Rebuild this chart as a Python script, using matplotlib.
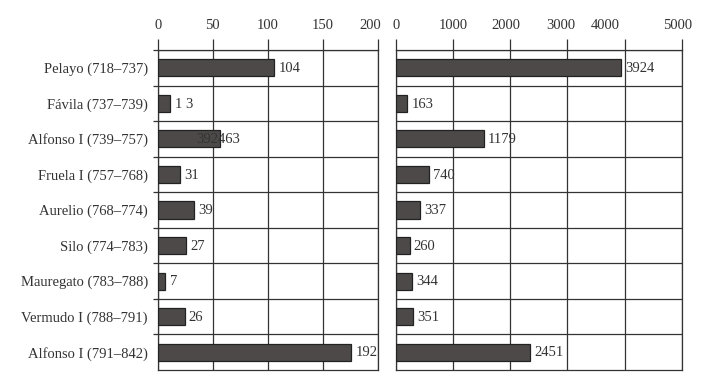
import matplotlib
matplotlib.use('Agg')
import matplotlib.pyplot as plt
import matplotlib.transforms as mtransforms
import numpy as np

plt.rcParams['font.family'] = ['Liberation Serif', 'DejaVu Serif']

# kings of Asturias and their reigns
kings = ['Pelayo (718–737)', 'Fávila (737–739)', 'Alfonso I (739–757)',
         'Fruela I (757–768)', 'Aurelio (768–774)', 'Silo (774–783)',
         'Mauregato (783–788)', 'Vermudo I (788–791)', 'Alfonso I (791–842)']

# bar lengths as drawn, and the labels as printed next to them
left_values = [106, 11.5, 57, 20, 33, 26, 7, 24.5, 176]
left_labels = ['104', '1 3', '392463', '31', '39', '27', '7', '26', '192']
right_values = [3932, 198, 1535, 583, 415, 240, 275, 292, 2340]
right_labels = ['3924', '163', '1179', '740', '337', '260', '344', '351', '2451']

left_ticks = [0, 50, 100, 150, 200]
right_ticks = [0, 1000, 2000, 3000, 4000, 5000]

ink = '#333333'
bar_fill = '#4d4949'

fig = plt.figure(figsize=(7.23, 3.86), dpi=100)
ax1 = fig.add_axes([0.2181, 0.0415, 0.3043, 0.829])
ax2 = fig.add_axes([0.5477, 0.0415, 0.3952, 0.829])

y = np.arange(len(kings))

# tick label nudges (px), the original places some labels off their gridline
nudges = {ax1: {200: -7.5}, ax2: {2000: -4, 3000: -7, 4000: -19, 5000: -4}}
# label shift (px) relative to bar end
label_shift = {'392463': -28}

for ax, vals, labs, ticks in [(ax1, left_values, left_labels, left_ticks),
                              (ax2, right_values, right_labels, right_ticks)]:
    ax.barh(y, vals, height=0.48, color=bar_fill, edgecolor='#222222',
            linewidth=0.9, zorder=3)
    ax.set_xlim(ticks[0], ticks[-1])
    ax.set_ylim(len(kings) - 0.5, -0.5)
    ax.set_xticks(ticks)
    ax.set_xticklabels([str(t) for t in ticks])
    ax.xaxis.tick_top()
    ax.tick_params(axis='x', direction='out', length=7.7, width=0.9,
                   color=ink, labelcolor=ink, labelsize=10.5, pad=5)
    # row boundaries (bottom one is the spine)
    ax.set_yticks(np.arange(len(kings)) - 0.5, minor=True)
    ax.grid(True, axis='x', which='major', color=ink, linewidth=0.9, zorder=1)
    ax.grid(True, axis='y', which='minor', color=ink, linewidth=0.9, zorder=1)
    for s in ax.spines.values():
        s.set_color(ink)
        s.set_linewidth(0.9)
    for v, lab in zip(y, labs):
        bar_end = vals[v]
        ax.annotate(lab, (bar_end, v), xytext=(3 + label_shift.get(lab, 0) * 0.72, -0.5),
                    textcoords='offset points', ha='left', va='center',
                    fontsize=10.5, color=ink, zorder=4)
    for tick, lab in zip(ticks, ax.get_xticklabels()):
        dx = nudges[ax].get(tick, 0)
        if dx:
            off = mtransforms.ScaledTranslation(dx / 100, 0, fig.dpi_scale_trans)
            lab.set_transform(lab.get_transform() + off)

ax1.set_yticks(y)
ax1.set_yticklabels(kings)
ax1.tick_params(axis='y', which='major', length=0, pad=7, labelsize=10.5, labelcolor=ink)
ax1.tick_params(axis='y', which='minor', direction='out', length=3.6, width=0.9, color=ink)

ax2.set_yticks(y)
ax2.set_yticklabels([])
ax2.tick_params(axis='y', which='both', length=0)

fig.savefig('out.png', dpi=100)
